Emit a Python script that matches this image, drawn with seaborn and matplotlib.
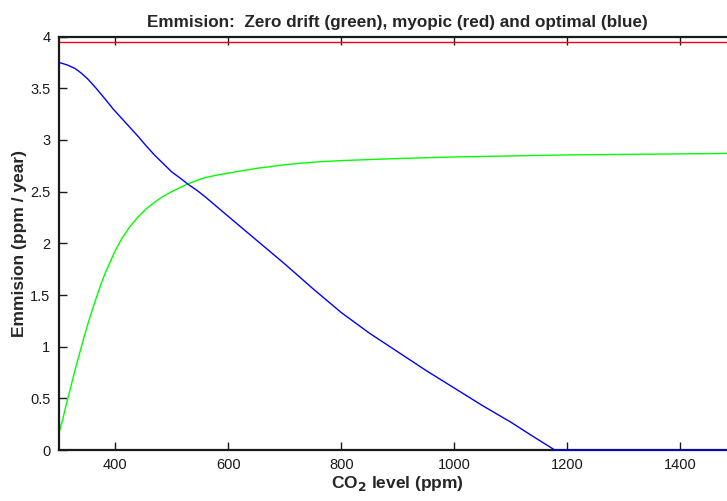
import matplotlib as mpl
from matplotlib import pyplot as plt
from matplotlib.ticker import FormatStrFormatter
import numpy as np
import pandas as pd
import seaborn as sns

sns.set_style("ticks")
plt.rcParams['font.family'] = ['Liberation Sans', 'DejaVu Sans']

# CO2 level (ppm) and emission (ppm / year)
co2_green = [300, 307, 314, 323, 330, 337, 344, 352, 360, 368, 375, 382, 390, 400, 411,
             425, 441, 455, 470, 485, 500, 515, 529, 545, 559, 580, 601, 650, 700, 750,
             800, 900, 1000, 1100, 1200, 1300, 1400, 1500]
zero_drift = [0.16, 0.30, 0.46, 0.65, 0.80, 0.94, 1.08, 1.23, 1.37, 1.50, 1.61, 1.71, 1.81, 1.93, 2.04,
              2.155, 2.26, 2.335, 2.40, 2.455, 2.50, 2.54, 2.575, 2.61, 2.635, 2.66, 2.68, 2.725, 2.76, 2.785,
              2.80, 2.82, 2.835, 2.845, 2.855, 2.86, 2.865, 2.87]

co2_blue = [300, 315, 329, 340, 352, 366, 382, 396, 411, 426, 441, 455, 470, 485, 500,
            515, 529, 545, 559, 600, 650, 700, 750, 800, 850, 900, 950, 1000, 1050, 1100,
            1140, 1178, 1300, 1400, 1500]
optimal = [3.75, 3.725, 3.69, 3.645, 3.585, 3.50, 3.395, 3.30, 3.21, 3.12, 3.03, 2.94, 2.85, 2.77, 2.69,
           2.63, 2.57, 2.51, 2.45, 2.26, 2.03, 1.80, 1.56, 1.33, 1.13, 0.95, 0.77, 0.60, 0.43, 0.27,
           0.13, 0.0, 0.0, 0.0, 0.0]

co2_red = [300, 1500]
myopic = [3.95, 3.95]

fig = plt.figure(figsize=(7.27, 5.01), dpi=100)
ax = fig.add_axes([0.0809, 0.1016, 0.9326, 0.8255])

sns.lineplot(x=co2_green, y=zero_drift, color='#00ff00', lw=1, ax=ax)
sns.lineplot(x=co2_red, y=myopic, color='red', lw=1, ax=ax)
sns.lineplot(x=co2_blue, y=optimal, color='blue', lw=1, ax=ax, zorder=5, clip_on=False)

ax.set_xlim(300, 1500)
ax.set_ylim(0, 4)
ax.set_xticks(np.arange(400, 1500, 200))
ax.set_yticks(np.arange(0, 4.01, 0.5))
ax.yaxis.set_major_formatter(FormatStrFormatter('%g'))

for side in ['left', 'bottom', 'top', 'right']:
    ax.spines[side].set_visible(True)
    ax.spines[side].set_linewidth(1.6)
    ax.spines[side].set_color('#1a1a1a')

ax.tick_params(direction='in', length=6, width=1, top=True, right=True,
               labelsize=10.5, colors='#1a1a1a', pad=6)

ax.set_title("Emmision:  Zero drift (green), myopic (red) and optimal (blue)",
             fontsize=12.3, fontweight='bold', pad=7)
ax.set_xlabel(r"CO$_\mathbf{2}$ level (ppm)", fontsize=12.5, fontweight='bold', labelpad=1)
ax.set_ylabel("Emmision (ppm / year)", fontsize=12.5, fontweight='bold', labelpad=2)

fig.savefig("out.png", dpi=100)
